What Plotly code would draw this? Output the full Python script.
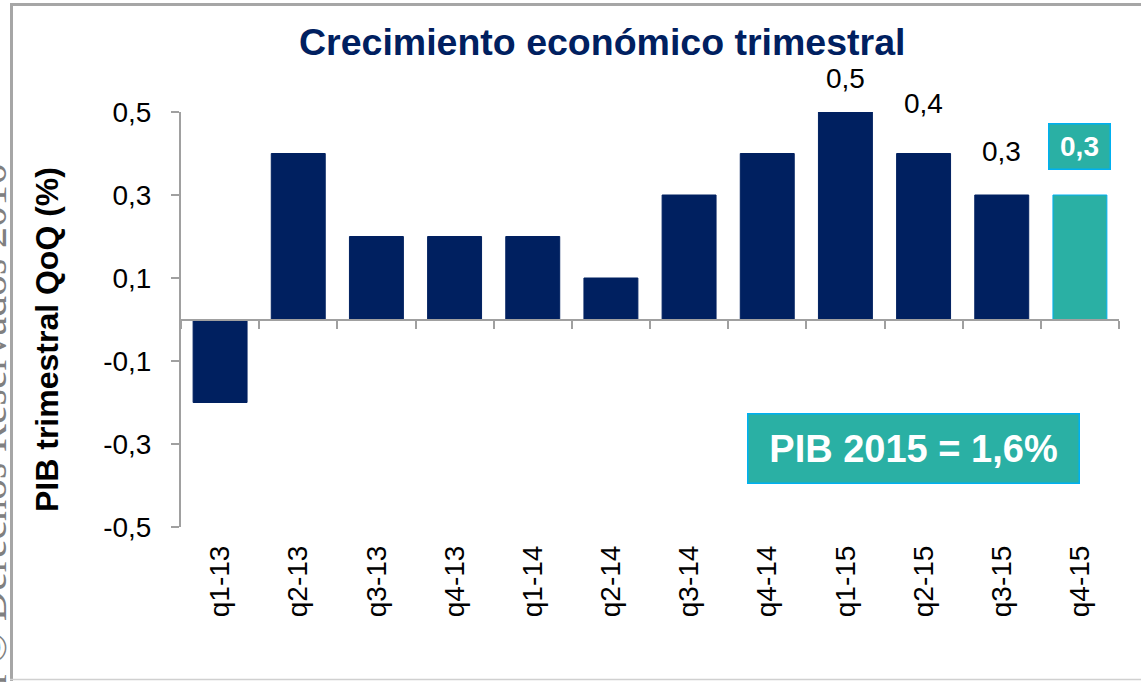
import plotly.graph_objects as go

# ---- data ----
quarters = ["q1-13", "q2-13", "q3-13", "q4-13", "q1-14", "q2-14",
            "q3-14", "q4-14", "q1-15", "q2-15", "q3-15", "q4-15"]
growth = [-0.2, 0.4, 0.2, 0.2, 0.2, 0.1, 0.3, 0.4, 0.5, 0.4, 0.3, 0.3]
labeled_quarters = ["q1-15", "q2-15", "q3-15", "q4-15"]
labeled_values = [0.5, 0.4, 0.3, 0.3]
y_tick_values = [-0.5, -0.3, -0.1, 0.1, 0.3, 0.5]
y_tick_labels = ["-0,5", "-0,3", "-0,1", "0,1", "0,3", "0,5"]
title_text = "Crecimiento económico trimestral"
y_title = "PIB trimestral QoQ (%)"
summary_text = "PIB 2015 = 1,6%"
watermark = "Capital © Derechos Reservados 2016"

# ---- style ----
NAVY = "#002060"
TEAL = "#2AB0A4"
EDGE = "#00B0F0"
AXIS = "#A0A0A0"
W, H = 1141, 682
ML, MR, MT, MB = 181, 22, 112, 155
PW, PH = W - ML - MR, H - MT - MB
label_lift = [34, 50, 44, 49]


def px(xp):
    return (xp - ML) / PW


def py(yp):
    return (H - MB - yp) / PH


bar_colors = [TEAL if q == "q4-15" else NAVY for q in quarters]
bar_lines = [EDGE if q == "q4-15" else NAVY for q in quarters]

fig = go.Figure()
fig.add_trace(go.Bar(
    x=quarters, y=growth,
    marker=dict(color=bar_colors, line=dict(color=bar_lines, width=1)),
    hoverinfo="skip", showlegend=False,
))
# invisible trace so the zero-axis (x2) has categories
fig.add_trace(go.Scatter(
    x=quarters, y=growth, xaxis="x2", mode="none",
    hoverinfo="skip", showlegend=False,
))

fig.update_layout(
    width=W, height=H, autosize=False,
    margin=dict(l=ML, r=MR, t=MT, b=MB, autoexpand=False),
    paper_bgcolor="white", plot_bgcolor="white",
    bargap=0.31,
    font=dict(family="Arial, Liberation Sans, sans-serif", color="black"),
    xaxis=dict(
        type="category", categoryorder="array", categoryarray=quarters,
        range=[-0.5, len(quarters) - 0.5], automargin=False,
        tickangle=-90, tickfont=dict(size=28, color="black"),
        ticks="", showline=False, showgrid=False, zeroline=False,
        ticklabelstandoff=12,
    ),
    xaxis2=dict(
        type="category", categoryorder="array", categoryarray=quarters,
        range=[-0.5, len(quarters) - 0.5], automargin=False,
        overlaying="x", anchor="free", position=0.5, side="bottom",
        showticklabels=False, ticks="outside", tickson="boundaries",
        ticklen=8, tickwidth=2, tickcolor=AXIS,
        showline=True, linecolor=AXIS, linewidth=2,
        showgrid=False, zeroline=False,
    ),
    yaxis=dict(
        range=[-0.5, 0.5], tickvals=y_tick_values, ticktext=y_tick_labels,
        tickfont=dict(size=28, color="black"), automargin=False,
        ticks="outside", ticklen=8, tickwidth=2, tickcolor=AXIS,
        showline=True, linecolor=AXIS, linewidth=2,
        showgrid=False, zeroline=False, ticklabelstandoff=14,
    ),
)

annotations = []
# title
annotations.append(dict(
    text=f"<b>{title_text}</b>", xref="paper", yref="paper",
    x=px(602), y=py(42), xanchor="center", yanchor="middle", showarrow=False,
    font=dict(size=37.5, color=NAVY, family="Arial, Liberation Sans, sans-serif"),
))
# y axis title
annotations.append(dict(
    text=f"<b>{y_title}</b>", xref="paper", yref="paper",
    x=px(47), y=py(340), xanchor="center", yanchor="middle",
    textangle=-90, showarrow=False,
    font=dict(size=32, color="black"),
))
# value labels
for i, (q, v) in enumerate(zip(labeled_quarters, labeled_values)):
    txt = f"{v:.1f}".replace(".", ",")
    if q == "q4-15":
        annotations.append(dict(
            text=f"<b>{txt}</b>", x=q, y=v, xref="x", yref="y",
            yshift=label_lift[i], xanchor="center", yanchor="middle",
            showarrow=False, font=dict(size=28, color="white"),
            bgcolor=TEAL, bordercolor=EDGE, borderwidth=1.5,
            width=58, height=42,
        ))
    else:
        annotations.append(dict(
            text=txt, x=q, y=v, xref="x", yref="y",
            yshift=label_lift[i], xanchor="center", yanchor="middle",
            showarrow=False, font=dict(size=28, color="black"),
        ))
# summary box
annotations.append(dict(
    text=f"<b>{summary_text}</b>", xref="paper", yref="paper",
    x=px(913), y=py(448), xanchor="center", yanchor="middle", showarrow=False,
    font=dict(size=38, color="white"),
    bgcolor=TEAL, bordercolor=EDGE, borderwidth=1.5,
    width=328, height=66,
))
# watermark (cut at left edge)
annotations.append(dict(
    text=watermark, xref="paper", yref="paper",
    x=px(-9), y=py(163), xanchor="center", yanchor="top",
    textangle=-90, showarrow=False,
    font=dict(size=42, color="#808080",
              family="Liberation Serif, Times New Roman, serif"),
))
fig.update_layout(annotations=annotations)

# frame
fig.add_shape(type="line", xref="paper", yref="paper",
              x0=px(11.5), x1=px(11.5), y0=py(3), y1=py(681),
              line=dict(color="#A6A6A6", width=3), layer="below")
fig.add_shape(type="line", xref="paper", yref="paper",
              x0=px(10), x1=px(1145), y0=py(4.5), y1=py(4.5),
              line=dict(color="#A6A6A6", width=3), layer="below")
fig.add_shape(type="line", xref="paper", yref="paper",
              x0=px(10), x1=px(1145), y0=py(679.5), y1=py(679.5),
              line=dict(color="#D0D0D0", width=1.5), layer="below")

fig.write_html("out.html",
               config={"displayModeBar": False},
               post_script="document.body.style.margin='0';"
                           "document.body.style.overflow='hidden';")
